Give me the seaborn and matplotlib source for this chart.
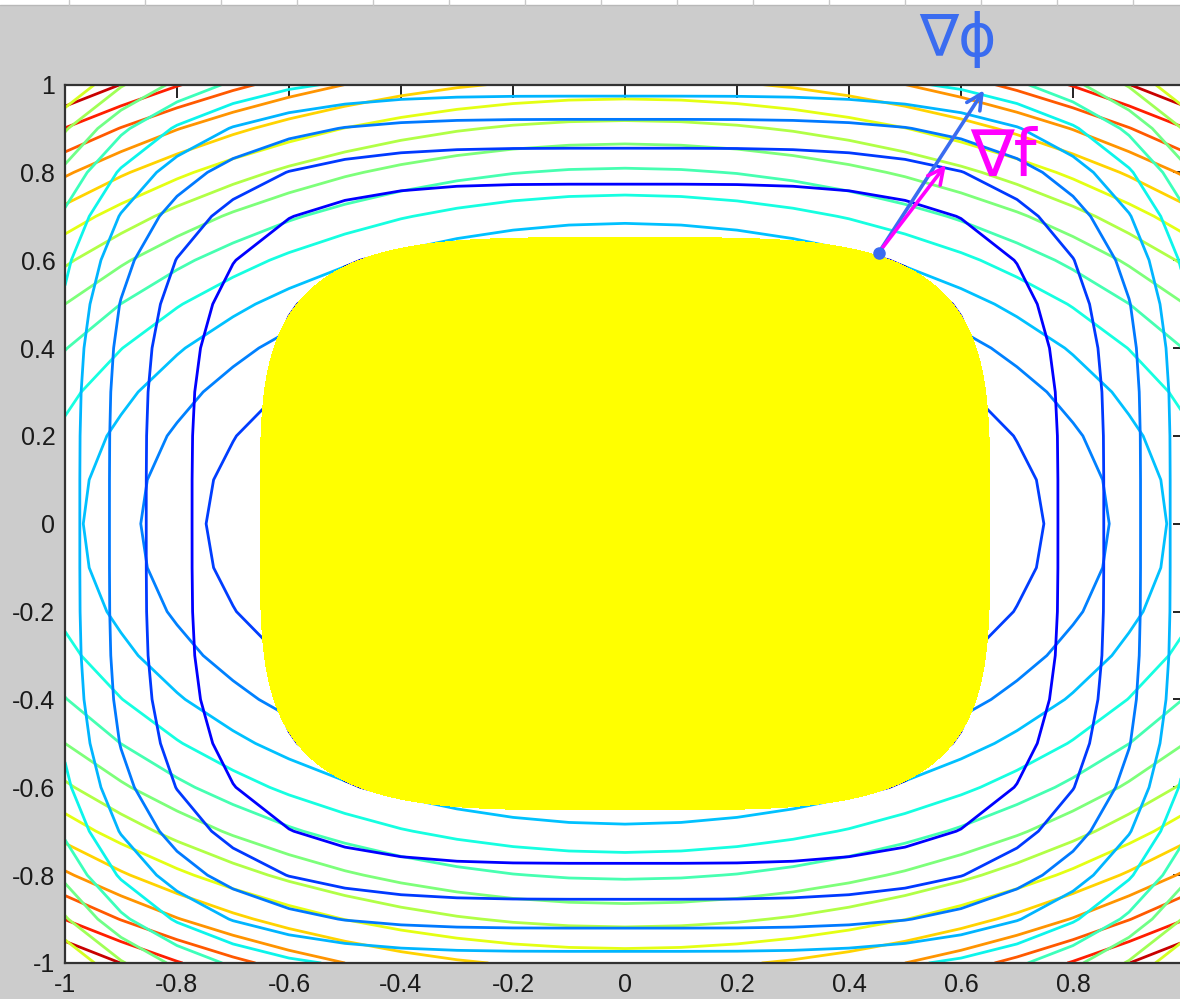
import numpy as np
import matplotlib
matplotlib.use("Agg")
import matplotlib.pyplot as plt
from matplotlib.colors import Normalize
from matplotlib.patches import Rectangle
from matplotlib.lines import Line2D
import seaborn as sns

# ---- data -------------------------------------------------------------
# MATLAB-style sampling grid  (-1:0.1:1)
grid_x = [-1.0, -0.9, -0.8, -0.7, -0.6, -0.5, -0.4, -0.3, -0.2, -0.1, 0.0,
          0.1, 0.2, 0.3, 0.4, 0.5, 0.6, 0.7, 0.8, 0.9, 1.0]
grid_y = list(grid_x)
# contour levels of phi = x^4 + y^4 and f = x^2 + 2 y^2
phi_levels = [0.182, 0.364, 0.545, 0.727, 0.909, 1.091, 1.273, 1.455, 1.636, 1.818]
f_levels = [0.188, 0.375, 0.562, 0.750, 0.938, 1.125, 1.312, 1.500, 1.688,
            1.875, 2.062, 2.250, 2.438, 2.625, 2.812]
color_limits = [0.0, 3.0]
# hand-painted feasible region  phi <= blob_level
blob_level = 0.18
# hand-drawn gradient arrows
grad_point = [0.453, 0.617]
grad_phi_tip = [0.641, 0.987]
grad_f_tip = [0.573, 0.817]
grad_phi_label = "∇ϕ"
grad_f_label = "∇f"
tick_values = [-1, -0.8, -0.6, -0.4, -0.2, 0, 0.2, 0.4, 0.6, 0.8, 1]
y_tick_labels = ["-1", "-0.8", "-0.6", "-0.4", "-0.2", "0", "0.2", "0.4", "0.6", "0.8", "1"]
# the "1" at the right end of the x axis falls outside the screenshot
x_tick_labels = ["-1", "-0.8", "-0.6", "-0.4", "-0.2", "0", "0.2", "0.4", "0.6", "0.8", ""]

# ---- style ------------------------------------------------------------
sns.set_theme(style="white")
plt.rcParams['font.family'] = ['Liberation Sans', 'DejaVu Sans']

fig = plt.figure(figsize=(11.8, 9.99), dpi=100, facecolor='#cccccc')
ax = fig.add_axes([65 / 1180, 36 / 999, 1120 / 1180, 878.5 / 999])
ax.set_facecolor('white')

X, Y = np.meshgrid(np.array(grid_x), np.array(grid_y))
PHI = X ** 4 + Y ** 4
F = X ** 2 + 2 * Y ** 2

cmap = matplotlib.colormaps['jet']
norm = Normalize(vmin=color_limits[0], vmax=color_limits[1])

ax.contour(X, Y, F, levels=f_levels, cmap=cmap, norm=norm, linewidths=2.0, zorder=2)
ax.contour(X, Y, PHI, levels=phi_levels, cmap=cmap, norm=norm, linewidths=2.0, zorder=2)

fine = np.linspace(-1, 1, 401)
XF, YF = np.meshgrid(fine, fine)
ax.contourf(XF, YF, XF ** 4 + YF ** 4, levels=[0, blob_level], colors=['#ffff00'], zorder=3)

blue = '#3a6cf0'
magenta = '#ff00ff'
ax.annotate('', xy=grad_phi_tip, xytext=grad_point,
            arrowprops=dict(arrowstyle='->', color=blue, lw=2.6, mutation_scale=28,
                            shrinkA=0, shrinkB=0), zorder=5, annotation_clip=False)
ax.annotate('', xy=grad_f_tip, xytext=grad_point,
            arrowprops=dict(arrowstyle='->', color=magenta, lw=2.6, mutation_scale=28,
                            shrinkA=0, shrinkB=0), zorder=6, annotation_clip=False)
ax.plot([grad_point[0]], [grad_point[1]], 'o', color=blue, ms=8, zorder=7, clip_on=False)

ax.text(0.594, 1.103, grad_phi_label, color=blue, fontsize=42, ha='center', va='center',
        family=['DejaVu Sans'], fontweight='normal', clip_on=False, zorder=8)
ax.text(0.676, 0.833, grad_f_label, color=magenta, fontsize=47, ha='center', va='center',
        family=['DejaVu Sans'], fontweight='normal', clip_on=False, zorder=8)

ax.set_xlim(-1, 1)
ax.set_ylim(-1, 1)
ax.set_xticks(tick_values)
ax.set_xticklabels(x_tick_labels)
ax.set_yticks(tick_values)
ax.set_yticklabels(y_tick_labels)
ax.tick_params(direction='in', length=9, width=1.4, color='#222222', labelsize=18,
               labelcolor='#1a1a1a', top=True, right=True, pad=7)
for s in ax.spines.values():
    s.set_color('#333333')
    s.set_linewidth(1.6)
    s.set_zorder(9)
ax.grid(False)

# white strip at the very top of the screenshot
fig.add_artist(Rectangle((0, 994 / 999), 1, 5 / 999, transform=fig.transFigure,
                         facecolor='white', edgecolor='none'))
fig.add_artist(Line2D([0, 1], [994 / 999, 994 / 999], transform=fig.transFigure,
                      color='#b8b8b8', lw=1))
for px in range(69, 1180, 76):
    fig.add_artist(Line2D([px / 1180, px / 1180], [994 / 999, 1], transform=fig.transFigure,
                          color='#c8c8c8', lw=1))

fig.savefig('out.png', dpi=100, facecolor=fig.get_facecolor())
